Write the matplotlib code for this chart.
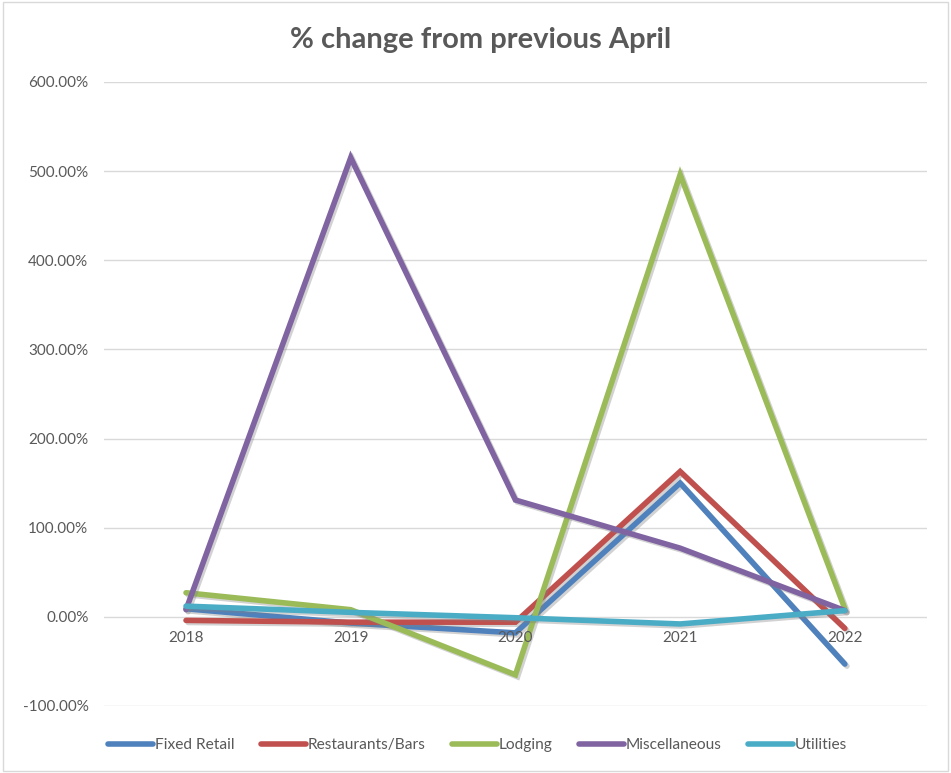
import numpy as np
import matplotlib
matplotlib.use("Agg")
import matplotlib.pyplot as plt
import matplotlib.patheffects as pe
from matplotlib.patches import Rectangle
from matplotlib.ticker import FuncFormatter

plt.rcParams['font.family'] = ['Lato', 'DejaVu Sans']

# year-over-year % change in April, by category
years = ['2018', '2019', '2020', '2021', '2022']
fixed_retail = [9, -7, -18, 150, -53]
restaurants_bars = [-4, -6, -6, 163, -13]
lodging = [27, 8, -65, 496, 9]
miscellaneous = [8, 515, 131, 77, 7]
utilities = [12, 5, -1, -8, 7]

series = [
    ("Fixed Retail", fixed_retail, "#4F81BD"),
    ("Restaurants/Bars", restaurants_bars, "#C0504D"),
    ("Lodging", lodging, "#9BBB59"),
    ("Miscellaneous", miscellaneous, "#8064A2"),
    ("Utilities", utilities, "#4BACC6"),
]

fig = plt.figure(figsize=(9.51, 7.73), dpi=100)
ax = fig.add_axes([0.109, 0.0867, 0.866, 0.8074])

shadow = [pe.SimpleLineShadow(offset=(1.5, -1.5), shadow_color='#808080', alpha=0.35),
          pe.Normal()]

x = np.arange(len(years))
for name, vals, col in series:
    ax.plot(x, vals, color=col, lw=4.0, label=name,
            solid_joinstyle='miter', solid_capstyle='round', path_effects=shadow)

ax.set_xlim(-0.5, len(years) - 0.5)
ax.set_ylim(-100, 600)
ax.set_yticks(np.arange(-100, 601, 100))
ax.yaxis.set_major_formatter(FuncFormatter(lambda v, p: f"{v:.2f}%"))
ax.tick_params(axis='y', length=0, labelsize=11, labelcolor='#595959', pad=11)
ax.set_xticks([])
ax.grid(axis='y', color='#D9D9D9', lw=1)
ax.set_axisbelow(True)
for s in ax.spines.values():
    s.set_visible(False)

# category labels sit just under the zero line
for xi, yr in zip(x, years):
    ax.annotate(yr, (xi, 0), xytext=(0, -10), textcoords='offset points',
                ha='center', va='top', fontsize=11, color='#595959')

fig.text(0.505, 0.948, "% change from previous April", ha='center', va='center',
         fontsize=21, fontweight='bold', color='#595959')

leg = fig.legend(loc='center', bbox_to_anchor=(0.502, 0.036), ncol=5, frameon=False,
                 fontsize=11.2, handlelength=2.9, handletextpad=0.1, columnspacing=1.7)
for t in leg.get_texts():
    t.set_color('#595959')
for h in leg.get_lines():
    h.set_linewidth(4.0)
    h.set_path_effects([])

fig.patches.append(Rectangle((0.003, 0.003), 0.994, 0.994, transform=fig.transFigure,
                             fill=False, edgecolor='#D9D9D9', lw=1))

fig.savefig("out.png", dpi=100)
